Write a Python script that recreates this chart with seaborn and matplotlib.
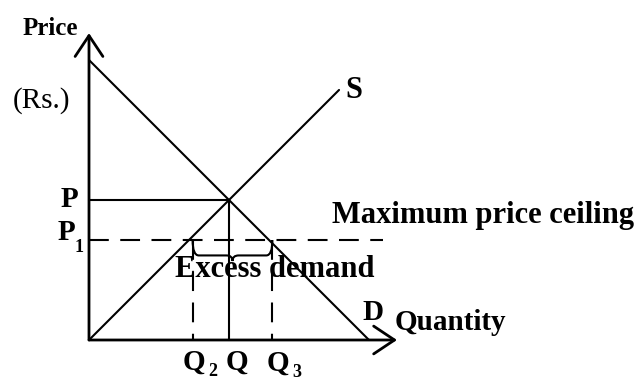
import matplotlib.pyplot as plt
from matplotlib.path import Path
from matplotlib.patches import PathPatch
import seaborn as sns

# demand and supply schedules (quantity, price)
demand_q = [0, 10]
demand_p = [10, 0]
supply_q = [0, 8.93]
supply_p = [0, 8.93]
eq_q = 5.0
eq_p = 5.0
# price ceiling and the quantities supplied / demanded at it
ceiling_p = 3.57
ceiling_end = 10.5
q2 = 3.7
q3 = 6.55
axis_x_max = 11.0
axis_y_max = 10.96

sns.set_style("white")
plt.rcParams['font.family'] = ['Liberation Serif', 'DejaVu Serif']
plt.rcParams['text.color'] = 'black'

fig = plt.figure(figsize=(6.36, 3.81), dpi=100)
ax = fig.add_axes([0, 0, 1, 1])
ax.set_xlim(-89 / 28, (636 - 89) / 28)
ax.set_ylim(-41 / 28, 340 / 28)
ax.axis('off')


def line(xs, ys, lw=1.5, dashed=False):
    ls = (0, (9.5, 5.5)) if dashed else '-'
    sns.lineplot(x=xs, y=ys, ax=ax, color='black', lw=lw, linestyle=ls,
                 estimator=None, sort=False)


def label(x, y, s, size=21, weight='bold', ha='left'):
    ax.text(x, y, s, fontsize=size, fontweight=weight, ha=ha, va='baseline',
            color='black')


# axes with open arrow heads
arrow = dict(arrowstyle='->,head_length=1.5,head_width=1.0', mutation_scale=10,
             lw=2, color='black', shrinkA=0, shrinkB=0)
ax.annotate('', xy=(0, axis_y_max), xytext=(0, 0), arrowprops=arrow)
ax.annotate('', xy=(axis_x_max, 0), xytext=(0, 0), arrowprops=arrow)

# curves
line(demand_q, demand_p)
line(supply_q, supply_p)

# equilibrium guides
line([0, eq_q], [eq_p, eq_p])
line([eq_q, eq_q], [eq_p, 0])

# price ceiling
line([0, ceiling_end], [ceiling_p, ceiling_p], dashed=True)
line([q2, q2], [ceiling_p, 0], dashed=True)
line([q3, q3], [ceiling_p, 0], dashed=True)

# brace marking the excess demand
top = ceiling_p
d, w, c = 0.55, 0.22, 0.2
mid = (q2 + q3) / 2
verts = [(q2, top), (q2, top - d), (q2 + w, top - d),
         (mid - w, top - d),
         (mid, top - d), (mid, top - d - c),
         (mid, top - d), (mid + w, top - d),
         (q3 - w, top - d),
         (q3, top - d), (q3, top)]
codes = [Path.MOVETO, Path.CURVE3, Path.CURVE3,
         Path.LINETO,
         Path.CURVE3, Path.CURVE3,
         Path.CURVE3, Path.CURVE3,
         Path.LINETO,
         Path.CURVE3, Path.CURVE3]
ax.add_patch(PathPatch(Path(verts, codes), fill=False, lw=1.5, color='black'))

# labels
label(-2.36, 10.89, 'Price', size=18)
label(-2.71, 8.29, '(Rs.)', size=21, weight='normal')
label(-0.39, eq_p - 0.25, 'P', ha='right')
label(-0.5, ceiling_p, 'P', ha='right')
label(-0.5, ceiling_p - 0.43, '1', size=13)
label(9.14, 8.64, 'S', size=22)
label(9.75, 0.71, 'D')
label(10.93, 0.36, 'Quantity')
label(8.68, 4.18, 'Maximum price ceiling', size=22)
label(3.07, 2.25, 'Excess demand', size=22)

label(q2 + 0.05, -1.05, 'Q', ha='center')
label(q2 + 0.55, -1.3, '2', size=13)
label(eq_q + 0.3, -1.05, 'Q', ha='center')
label(q3 + 0.2, -1.09, 'Q', ha='center')
label(q3 + 0.7, -1.33, '3', size=13)

fig.savefig('out.png', dpi=100)
